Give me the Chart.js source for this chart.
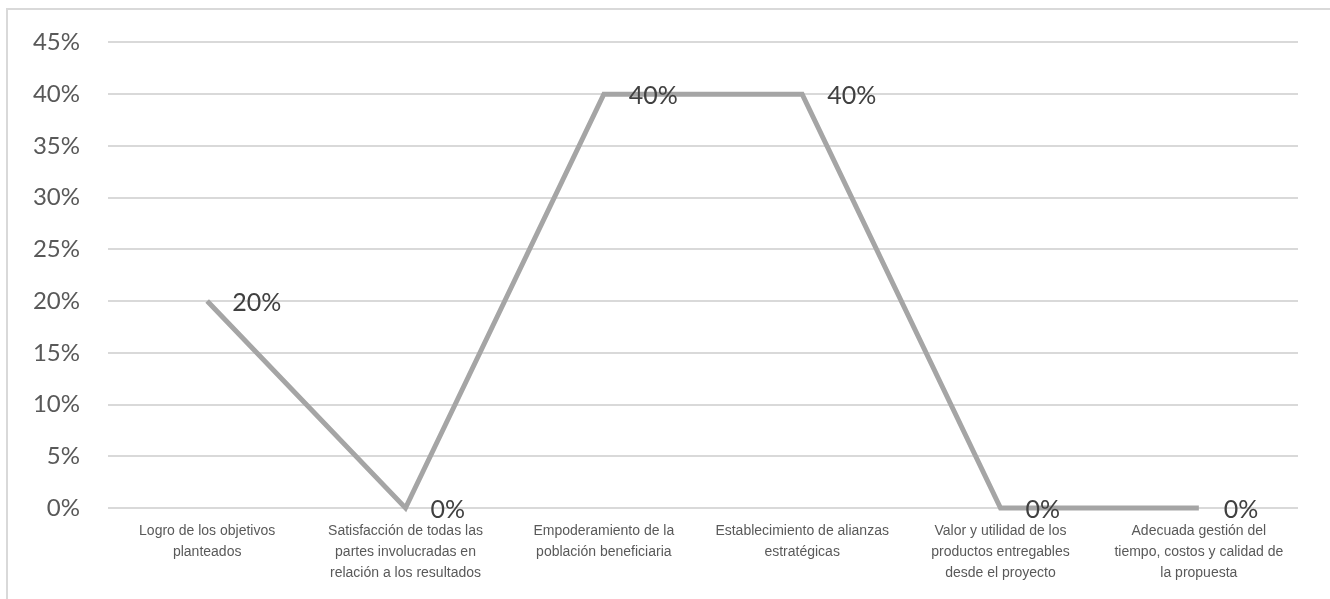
<!DOCTYPE html>
<html>
<head>
<meta charset="utf-8">
<script src="https://cdn.jsdelivr.net/npm/chart.js@4/dist/chart.umd.min.js"></script>
<style>
	html, body { margin: 0; padding: 0; background: #fff; }
	#wrap { width: 1330px; height: 599px; }
</style>
</head>
<body>
<div id="wrap"><canvas id="chart" width="1330" height="599"></canvas></div>
<script>
	'use strict';

	const categories = [
		['Logro de los objetivos', 'planteados'],
		['Satisfacción de todas las', 'partes involucradas en', 'relación a los resultados'],
		['Empoderamiento de la', 'población beneficiaria'],
		['Establecimiento de alianzas', 'estratégicas'],
		['Valor y utilidad de los', 'productos entregables', 'desde el proyecto'],
		['Adecuada gestión del', 'tiempo, costos y calidad de', 'la propuesta']
	];
	const values = [20, 0, 40, 40, 0, 0];
	const yTicks = [0, 5, 10, 15, 20, 25, 30, 35, 40, 45];

	const tickColor = '#595959';

	// value labels to the right of each point
	const valueLabels = {
		id: 'valueLabels',
		afterDatasetsDraw(chart) {
			const ctx = chart.ctx;
			const meta = chart.getDatasetMeta(0);
			ctx.save();
			ctx.font = '25px Lato, sans-serif';
			ctx.fillStyle = '#404040';
			ctx.textAlign = 'left';
			ctx.textBaseline = 'middle';
			meta.data.forEach((pt, i) => {
				ctx.fillText(values[i] + '%', pt.x + 25, pt.y + 2);
			});
			ctx.restore();
		}
	};

	// thin frame on the left and top edges
	const frame = {
		id: 'frame',
		beforeDraw(chart) {
			const ctx = chart.ctx;
			ctx.save();
			ctx.strokeStyle = '#d9d9d9';
			ctx.lineWidth = 2;
			ctx.beginPath();
			ctx.moveTo(7, 599);
			ctx.lineTo(7, 9);
			ctx.lineTo(1330, 9);
			ctx.stroke();
			ctx.restore();
		}
	};

	new Chart(document.getElementById('chart').getContext('2d'), {
		type: 'line',
		data: {
			labels: categories,
			datasets: [{
				data: values,
				borderColor: '#a5a5a5',
				borderWidth: 5,
				pointRadius: 0,
				tension: 0,
				clip: false
			}]
		},
		options: {
			responsive: false,
			animation: false,
			layout: { padding: { top: 42, right: 32, left: 0, bottom: 0 } },
			plugins: { legend: { display: false }, tooltip: { enabled: false } },
			scales: {
				x: {
					offset: true,
					grid: { display: false },
					border: { display: false },
					ticks: {
						color: tickColor,
						font: { family: '"Liberation Sans", sans-serif', size: 14, lineHeight: 1.5 },
						padding: 5,
						maxRotation: 0,
						autoSkip: false
					},
					afterFit(scale) { scale.height = 91; }
				},
				y: {
					min: 0,
					max: 45,
					afterBuildTicks(scale) { scale.ticks = yTicks.map(v => ({ value: v })); },
					grid: { color: '#d9d9d9', lineWidth: 2, drawTicks: false },
					border: { display: false },
					ticks: {
						color: tickColor,
						font: { family: 'Lato, sans-serif', size: 24 },
						padding: 28,
						callback: v => v + '%'
					},
					afterFit(scale) { scale.width = 108; }
				}
			}
		},
		plugins: [frame, valueLabels]
	});
</script>
</body>
</html>
